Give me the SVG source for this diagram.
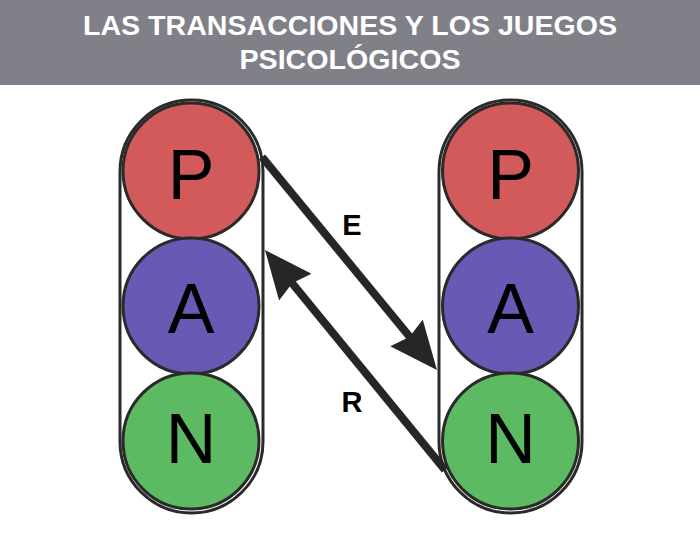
<svg xmlns="http://www.w3.org/2000/svg" width="700" height="538" viewBox="0 0 700 538">
<style>
.title{font-family:"Liberation Sans",Arial,sans-serif;font-weight:bold;font-size:27px;fill:#ffffff;text-anchor:middle}
.cap{fill:none;stroke:#2a2a2a;stroke-width:3}
.c{stroke:#2a2a2a;stroke-width:3}
.p{fill:#d25a5a}.a{fill:#6a58b5}.n{fill:#5cba62}
.lt{font-family:"Liberation Sans",Arial,sans-serif;font-size:70px;fill:#000;text-anchor:middle}
.lbl{font-family:"Liberation Sans",Arial,sans-serif;font-weight:bold;font-size:29px;fill:#000;text-anchor:middle}
.arr{stroke:#262626;stroke-width:8;fill:none}
</style>
<defs>
<marker id="ah" viewBox="0 0 48 42" refX="26" refY="21" markerWidth="48" markerHeight="42" markerUnits="userSpaceOnUse" orient="auto">
<path d="M0,0 L48,21 L0,42 L5,21 z" fill="#262626"/>
</marker>
</defs>
<rect x="0" y="0" width="700" height="85" fill="#808088"/>
<text class="title" x="350" y="35" textLength="534" lengthAdjust="spacingAndGlyphs">LAS TRANSACCIONES Y LOS JUEGOS</text>
<text class="title" x="350" y="69" textLength="221" lengthAdjust="spacingAndGlyphs">PSICOLÓGICOS</text>
<g id="left">
<rect class="cap" x="120" y="100" width="143" height="413" rx="71.5"/>
<g id="leftP"><circle class="c p" cx="191" cy="171" r="68"/><text class="lt" x="191" y="199">P</text></g>
<g id="leftA"><circle class="c a" cx="191" cy="306" r="68"/><text class="lt" x="191" y="333">A</text></g>
<g id="leftN"><circle class="c n" cx="191" cy="441" r="68"/><text class="lt" x="191" y="463">N</text></g>
</g>
<g id="right">
<rect class="cap" x="439" y="100" width="143" height="413" rx="71.5"/>
<g id="rightP"><circle class="c p" cx="510.5" cy="171" r="68"/><text class="lt" x="510.5" y="199">P</text></g>
<g id="rightA"><circle class="c a" cx="510.5" cy="306" r="68"/><text class="lt" x="510.5" y="333">A</text></g>
<g id="rightN"><circle class="c n" cx="510.5" cy="441" r="68"/><text class="lt" x="510.5" y="463">N</text></g>
</g>
<g id="connectors">
<line class="arr" x1="262" y1="157" x2="423" y2="353" marker-end="url(#ah)"/>
<line class="arr" x1="445" y1="470" x2="278.9" y2="267" marker-end="url(#ah)"/>
<text class="lbl" x="352" y="235">E</text>
<text class="lbl" x="352" y="412">R</text>
</g>
</svg>
